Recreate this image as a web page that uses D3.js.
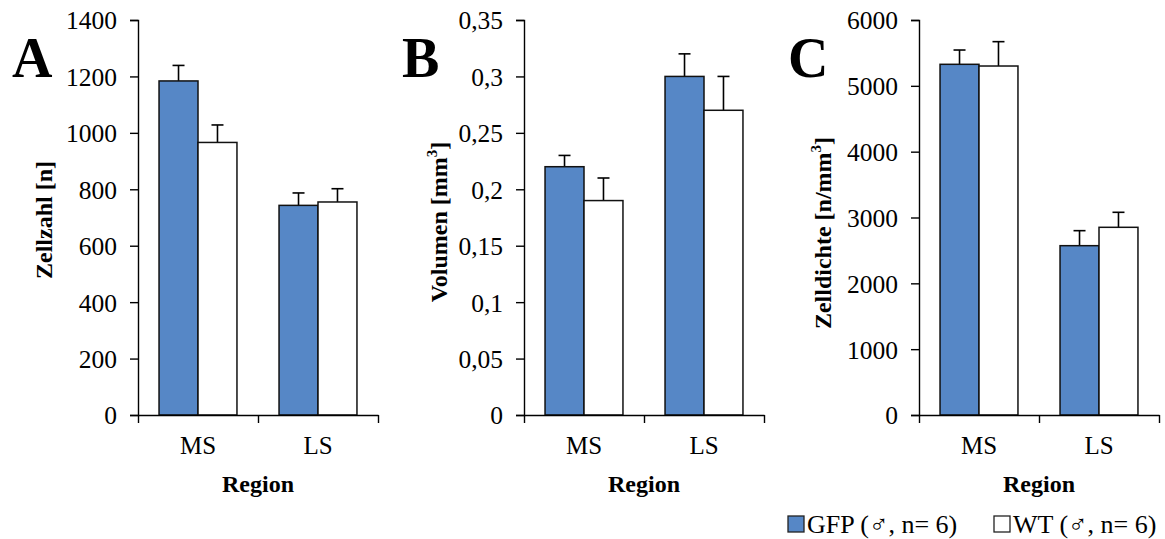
<!DOCTYPE html>
<html>
<head>
<meta charset="utf-8">
<script src="https://cdn.jsdelivr.net/npm/d3@7"></script>
<style>
  body { margin: 0; background: #fff; }
</style>
</head>
<body>
<div class="chart"></div>
<script>
// values
var regions = ["MS", "LS"];
var groups = ["GFP", "WT"];
var legendLabels = ["GFP (\u2642, n= 6)", "WT (\u2642, n= 6)"];

var zellzahlGFP = [1184, 743];
var zellzahlGFPErr = [55, 44];
var zellzahlWT = [966, 755];
var zellzahlWTErr = [62, 47];
var zellzahlTicks = [0, 200, 400, 600, 800, 1000, 1200, 1400];

var volumenGFP = [0.22, 0.30];
var volumenGFPErr = [0.01, 0.02];
var volumenWT = [0.19, 0.27];
var volumenWTErr = [0.02, 0.03];
var volumenTicks = [0, 0.05, 0.1, 0.15, 0.2, 0.25, 0.3, 0.35];

var dichteGFP = [5327, 2572];
var dichteGFPErr = [217, 228];
var dichteWT = [5301, 2851];
var dichteWTErr = [370, 228];
var dichteTicks = [0, 1000, 2000, 3000, 4000, 5000, 6000];

var blue = "#5687c6";
var serif = "'Liberation Serif', 'Times New Roman', serif";

var de = d3.formatLocale({decimal: ",", thousands: "", grouping: [3], currency: ["", "€"]});

var svg = d3.select("div.chart")
  .append("svg")
  .attr("width", 1165)
  .attr("height", 539)
  .style("font-family", serif);

function panel(opt){
  var top = 20, bottom = 415, w = 240;

  var g = svg.append("g");

  var y = d3.scaleLinear()
    .domain([0, opt.ticks[opt.ticks.length - 1]])
    .range([bottom, top]);

  var x = d3.scaleBand()
    .domain(regions)
    .range([opt.x0, opt.x0 + w]);

  var xs = d3.scaleBand()
    .domain(groups)
    .range([0, x.bandwidth()])
    .paddingInner(0)
    .paddingOuter(0.54);

  var rows = [];
  regions.forEach(function(r, i){
    rows.push({region: r, group: "GFP", v: opt.gfp[i], e: opt.gfpErr[i]});
    rows.push({region: r, group: "WT", v: opt.wt[i], e: opt.wtErr[i]});
  });

  // error bars (upper only)
  var eb = g.selectAll(".err")
    .data(rows)
    .enter()
    .append("g");
  eb.append("line")
    .attr("x1", function(d){ return x(d.region) + xs(d.group) + xs.bandwidth()/2; })
    .attr("x2", function(d){ return x(d.region) + xs(d.group) + xs.bandwidth()/2; })
    .attr("y1", function(d){ return y(d.v); })
    .attr("y2", function(d){ return y(d.v + d.e); })
    .attr("stroke", "#000")
    .attr("stroke-width", 1.6);
  eb.append("line")
    .attr("x1", function(d){ return x(d.region) + xs(d.group) + xs.bandwidth()/2 - 6; })
    .attr("x2", function(d){ return x(d.region) + xs(d.group) + xs.bandwidth()/2 + 6; })
    .attr("y1", function(d){ return y(d.v + d.e); })
    .attr("y2", function(d){ return y(d.v + d.e); })
    .attr("stroke", "#000")
    .attr("stroke-width", 1.6);

  g.selectAll(".bar")
    .data(rows)
    .enter()
    .append("rect")
    .attr("x", function(d){ return x(d.region) + xs(d.group); })
    .attr("y", function(d){ return y(d.v); })
    .attr("width", xs.bandwidth())
    .attr("height", function(d){ return bottom - y(d.v); })
    .attr("fill", function(d){ return d.group == "GFP" ? blue : "#fff"; })
    .attr("stroke", "#111")
    .attr("stroke-width", 1.5);

  // y axis
  var ya = g.append("g")
    .attr("transform", "translate(" + opt.x0 + ",0)")
    .call(d3.axisLeft(y).tickValues(opt.ticks).tickSize(8).tickPadding(13).tickFormat(opt.fmt));
  ya.attr("font-family", null).attr("font-size", null);
  ya.select(".domain").attr("stroke", "#000").attr("stroke-width", 1.4);
  ya.selectAll(".tick line").attr("stroke", "#000").attr("stroke-width", 1.4);
  ya.selectAll(".tick text")
    .style("font-family", serif)
    .style("font-size", "25.5px")
    .attr("dy", "0.35em")
    .attr("fill", "#000");

  // x axis, ticks between categories
  var xb = d3.scaleLinear().domain([0, 2]).range([opt.x0, opt.x0 + w]);
  var xa = g.append("g")
    .attr("transform", "translate(0," + bottom + ")")
    .call(d3.axisBottom(xb).tickValues([0, 1, 2]).tickSize(8).tickSizeOuter(0).tickFormat(""));
  xa.select(".domain").attr("stroke", "#000").attr("stroke-width", 1.4);
  xa.selectAll(".tick line").attr("stroke", "#000").attr("stroke-width", 1.4);

  g.selectAll(".cat")
    .data(regions)
    .enter()
    .append("text")
    .attr("x", function(d){ return x(d) + x.bandwidth()/2; })
    .attr("y", 454)
    .attr("text-anchor", "middle")
    .style("font-size", "25px")
    .text(function(d){ return d; });

  g.append("text")
    .attr("x", opt.x0 + w/2)
    .attr("y", 492)
    .attr("text-anchor", "middle")
    .style("font-size", "24px")
    .style("font-weight", "bold")
    .text("Region");

  var yl = g.append("text")
    .attr("transform", "translate(" + opt.labelX + "," + opt.labelY + ") rotate(-90)")
    .attr("text-anchor", "middle")
    .style("font-size", "24px")
    .style("font-weight", "bold")
    .text(opt.label);
  if(opt.sup){
    yl.append("tspan").style("font-size", "15px").attr("dy", -10).text("3");
    yl.append("tspan").attr("dy", 10).text("]");
  }

  g.append("text")
    .attr("x", opt.letterX)
    .attr("y", 77)
    .style("font-size", "56px")
    .style("font-weight", "bold")
    .text(opt.letter);
}

panel({x0: 138, ticks: zellzahlTicks, gfp: zellzahlGFP, gfpErr: zellzahlGFPErr, wt: zellzahlWT, wtErr: zellzahlWTErr,
       fmt: de.format("d"), label: "Zellzahl [n]", sup: false, labelX: 52, labelY: 220, letter: "A", letterX: 12});

panel({x0: 524, ticks: volumenTicks, gfp: volumenGFP, gfpErr: volumenGFPErr, wt: volumenWT, wtErr: volumenWTErr,
       fmt: function(d){ return d == 0 ? "0" : de.format("~g")(d); }, label: "Volumen [mm", sup: true, labelX: 447, labelY: 222, letter: "B", letterX: 402});

panel({x0: 919, ticks: dichteTicks, gfp: dichteGFP, gfpErr: dichteGFPErr, wt: dichteWT, wtErr: dichteWTErr,
       fmt: de.format("d"), label: "Zelldichte [n/mm", sup: true, labelX: 831, labelY: 233, letter: "C", letterX: 788});

// legend
var legendX = [788, 994];
var lg = svg.selectAll(".legend")
  .data(groups)
  .enter()
  .append("g");
lg.append("rect")
  .attr("x", function(d, i){ return legendX[i]; })
  .attr("y", 516)
  .attr("width", 16)
  .attr("height", 16)
  .attr("fill", function(d){ return d == "GFP" ? blue : "#fff"; })
  .attr("stroke", "#222")
  .attr("stroke-width", 1.3);
lg.append("text")
  .attr("x", function(d, i){ return legendX[i] + 19; })
  .attr("y", 533)
  .style("font-size", "26px")
  .text(function(d, i){ return legendLabels[i]; });
</script>
</body>
</html>
